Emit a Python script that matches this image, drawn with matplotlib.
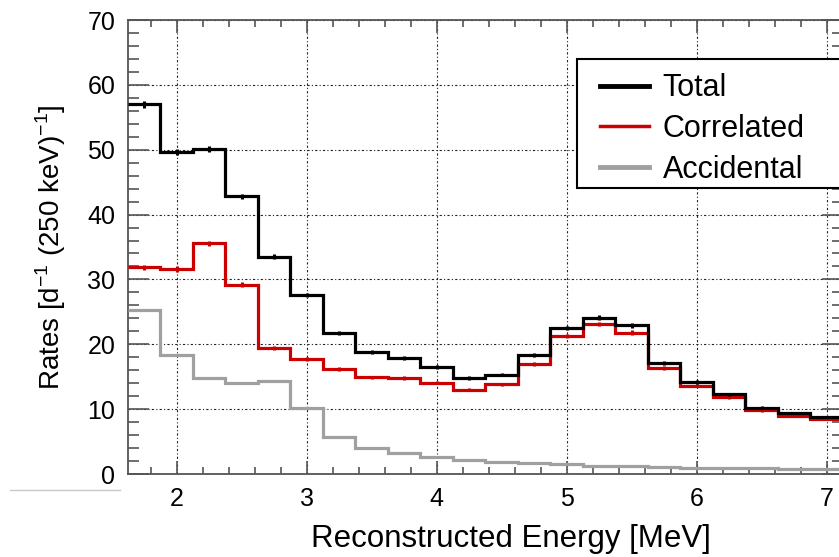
import numpy as np
import matplotlib
matplotlib.use("Agg")
import matplotlib.pyplot as plt
from matplotlib.ticker import MultipleLocator
from matplotlib.patches import Rectangle
from matplotlib.lines import Line2D

plt.rcParams['font.family'] = ['Liberation Sans', 'DejaVu Sans']

# bin edges: 250 keV bins
edges = np.arange(1.625, 7.126, 0.25)
centers = 0.5 * (edges[:-1] + edges[1:])

total = [57.0, 49.6, 50.1, 42.8, 33.5, 27.6, 21.8, 18.8, 17.9, 16.5, 14.8,
         15.3, 18.3, 22.5, 24.1, 22.9, 17.1, 14.2, 12.3, 10.2, 9.4, 8.8]
correlated = [31.9, 31.6, 35.6, 29.2, 19.4, 17.7, 16.2, 14.9, 14.8, 14.1, 13.0,
              13.8, 17.0, 21.3, 23.1, 21.8, 16.3, 13.6, 11.8, 9.8, 9.0, 8.5]
accidental = [25.3, 18.3, 14.8, 14.0, 14.3, 10.2, 5.75, 4.05, 3.3, 2.6, 2.1,
              1.85, 1.65, 1.5, 1.3, 1.2, 1.1, 0.95, 0.9, 0.85, 0.8, 0.75]
total_err = [0.5, 0.45, 0.45, 0.4, 0.4, 0.35, 0.3, 0.3, 0.3, 0.3, 0.25,
             0.25, 0.3, 0.35, 0.35, 0.35, 0.3, 0.25, 0.25, 0.25, 0.2, 0.2]
correlated_err = [0.4, 0.4, 0.4, 0.4, 0.3, 0.3, 0.3, 0.25, 0.25, 0.25, 0.25,
                  0.25, 0.3, 0.3, 0.35, 0.35, 0.3, 0.25, 0.25, 0.2, 0.2, 0.2]

RED = '#cc0000'
GRAY = '#a0a0a0'

fig = plt.figure(figsize=(8.39, 5.57), dpi=100)
W, H = 839, 557
# axes in pixel coords: left 127.8, right 842.9, top 20, bottom 474
ax = fig.add_axes([127.8 / W, (H - 474) / H, (842.9 - 127.8) / W, (474 - 20) / H])

ax.stairs(accidental, edges, baseline=None, color=GRAY, lw=2.3, label='Accidental', zorder=3)
ax.stairs(correlated, edges, baseline=None, color=RED, lw=2.3, label='Correlated', zorder=4)
ax.errorbar(centers, correlated, yerr=correlated_err, fmt='none', ecolor=RED, elinewidth=2.2, zorder=4)
ax.stairs(total, edges, baseline=None, color='black', lw=2.3, label='Total', zorder=5)
ax.errorbar(centers, total, yerr=total_err, fmt='none', ecolor='black', elinewidth=2.2, zorder=5)

ax.set_xlim(1.625, 7.125)
ax.set_ylim(0, 70)
ax.xaxis.set_major_locator(MultipleLocator(1))
ax.xaxis.set_minor_locator(MultipleLocator(0.2))
ax.yaxis.set_major_locator(MultipleLocator(10))
ax.yaxis.set_minor_locator(MultipleLocator(2))

ax.grid(True, which='major', color='#222222', lw=0.8, linestyle=(0, (2, 2, 1, 2)), zorder=1)

for s in ax.spines.values():
    s.set_color('#555555')
    s.set_linewidth(1.3)

ax.tick_params(which='both', direction='in', top=True, right=True, color='#555555',
               labelsize=18, width=1.2)
ax.tick_params(axis='x', which='major', length=9.5, pad=9)
ax.tick_params(axis='x', which='minor', length=5)
ax.tick_params(axis='y', which='major', length=15, pad=9)
ax.tick_params(axis='y', which='minor', length=8)

ax.set_xlabel('Reconstructed Energy [MeV]', fontsize=22.5, labelpad=10)
ax.xaxis.label.set_x(0.536)
ax.set_ylabel(r'Rates [d$^{\mathregular{-1}}$ (250 keV)$^{\mathregular{-1}}$]', fontsize=20, labelpad=14)

# legend (frame drawn separately since it runs off the right edge)
handles = [Line2D([], [], color='black', lw=3.5),
           Line2D([], [], color=RED, lw=2.5),
           Line2D([], [], color=GRAY, lw=3.5)]
labels = ['Total', 'Correlated', 'Accidental']
fig.legend(handles, labels, loc='upper left', bbox_to_anchor=(588 / W, 1 - 61 / H),
           frameon=False, fontsize=22, handlelength=1.6, handletextpad=0.45,
           labelspacing=0.35, borderaxespad=0)
fig.add_artist(Rectangle((577 / W, 1 - 188 / H), 300 / W, 129 / H, transform=fig.transFigure,
                         facecolor='white', edgecolor='black', lw=1.5, zorder=2))

# leftover crop line at lower left
fig.add_artist(Line2D([10 / W, 120 / W], [1 - 490 / H, 1 - 490 / H], color='#c8c8c8', lw=1))

fig.savefig('out.png', dpi=100)
